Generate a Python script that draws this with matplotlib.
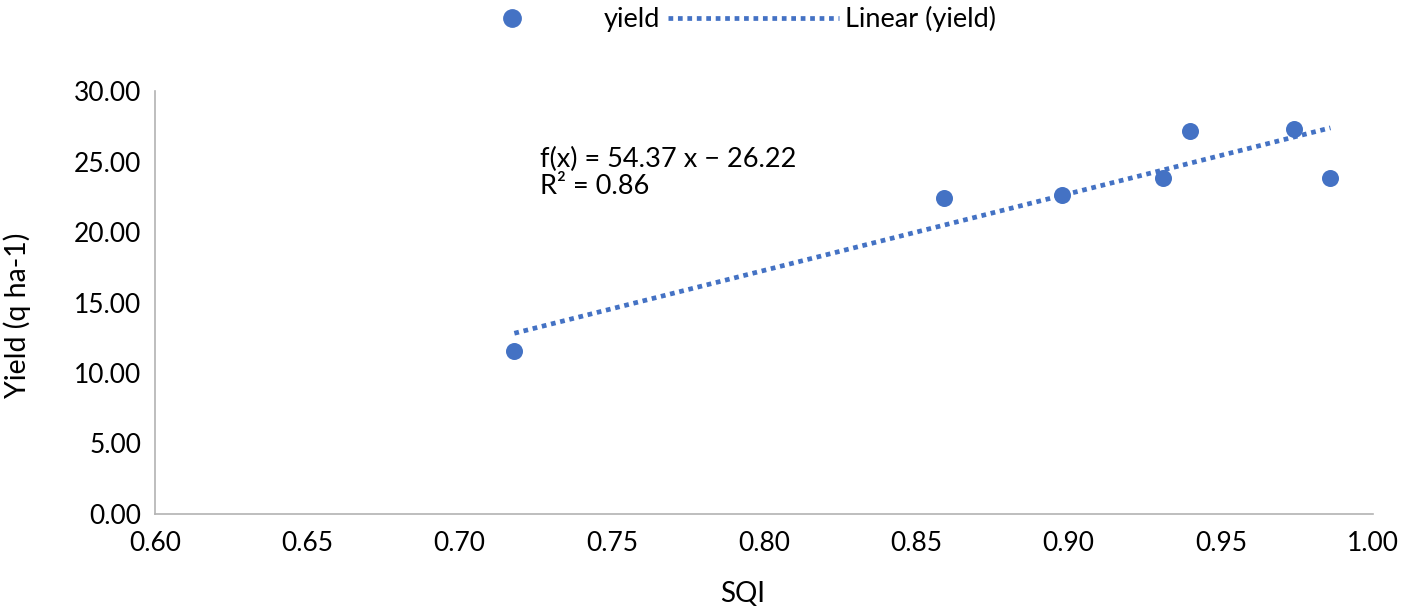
import numpy as np
import matplotlib
matplotlib.use('Agg')
import matplotlib.pyplot as plt
from matplotlib.lines import Line2D

sqi = [0.718, 0.859, 0.898, 0.931, 0.940, 0.974, 0.986]
yld = [11.55, 22.40, 22.60, 23.80, 27.15, 27.30, 23.80]
slope = 54.37
intercept = -26.22
r2 = 0.86

x_ticks = [0.60, 0.65, 0.70, 0.75, 0.80, 0.85, 0.90, 0.95, 1.00]
y_ticks = [0, 5, 10, 15, 20, 25, 30]

blue = '#4472C4'
plt.rcParams['font.family'] = ['Lato', 'DejaVu Sans']

fig = plt.figure(figsize=(14.17, 6.11), dpi=100)
ax = fig.add_axes([0.1094, 0.1588, 0.8596, 0.6922])

ax.scatter(sqi, yld, s=150, color=blue, zorder=3, linewidths=0)
xs = np.array([min(sqi), max(sqi)])
ax.plot(xs, slope * xs + intercept, color=blue, lw=3.4,
        linestyle=(0, (1, 1)), dash_capstyle='butt', zorder=2)

ax.text(0.7265, 24.2, f'f(x) = {slope:.2f} x \u2212 {abs(intercept):.2f}\nR\u00b2 = {r2:.2f}',
        fontsize=19.5, va='center', ha='left', linespacing=1.1)

ax.set_xlim(0.60, 1.00)
ax.set_ylim(0, 30)
ax.set_xticks(x_ticks)
ax.set_xticklabels([f'{v:.2f}' for v in x_ticks])
ax.set_yticks(y_ticks)
ax.set_yticklabels([f'{v:.2f}' for v in y_ticks])
ax.tick_params(axis='y', length=0, labelsize=19, pad=10)
ax.tick_params(axis='x', length=0, labelsize=19, pad=12)
for s in ['top', 'right']:
    ax.spines[s].set_visible(False)
for s in ['left', 'bottom']:
    ax.spines[s].set_color('#b3b3b3')
    ax.spines[s].set_linewidth(1.2)

ax.set_xlabel('SQI', fontsize=20)
ax.xaxis.set_label_coords(0.482, -0.158)
ax.set_ylabel('Yield (q ha-1)', fontsize=20.5)
ax.yaxis.set_label_coords(-0.102, 0.47)

handles = [
    Line2D([], [], marker='o', color=blue, ls='none', markersize=12.5),
    Line2D([], [], color=blue, lw=3.4, linestyle=(0, (1, 1))),
]
fig.legend(handles, ['yield', 'Linear (yield)'], loc='upper center',
           bbox_to_anchor=(0.502, 1.03), ncol=2, frameon=False, fontsize=19.5,
           handlelength=6.3, handletextpad=0.25, columnspacing=0.3)

fig.savefig('out.png', dpi=100)
